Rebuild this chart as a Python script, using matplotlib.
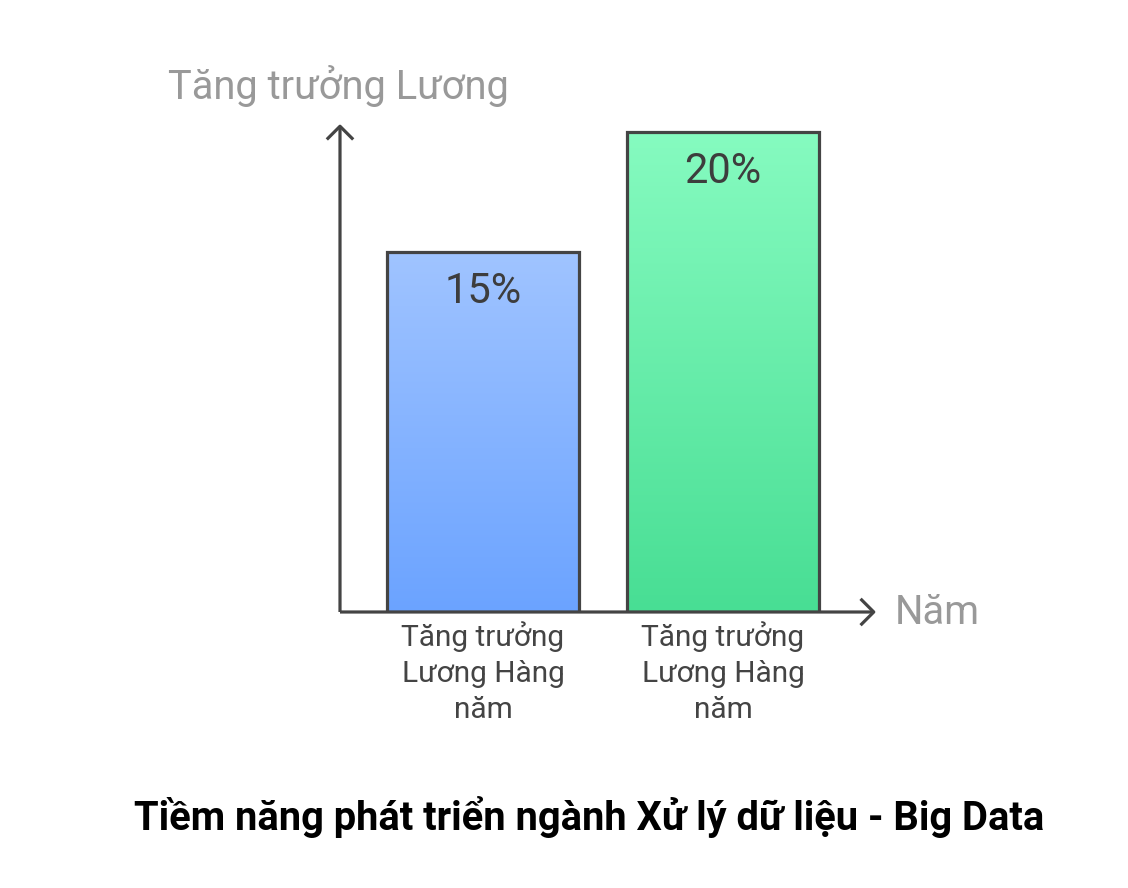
import matplotlib

matplotlib.use("Agg")
import matplotlib.pyplot as plt
import numpy as np
from matplotlib.colors import LinearSegmentedColormap

plt.rcParams["font.family"] = ["Roboto", "DejaVu Sans"]

# data
categories = ["Tăng trưởng\nLương Hàng\nnăm", "Tăng trưởng\nLương Hàng\nnăm"]
growth = [15, 20]
value_labels = ["15%", "20%"]
y_label = "Tăng trưởng Lương"
x_label = "Năm"
title = "Tiềm năng phát triển ngành Xử lý dữ liệu - Big Data"

gradients = [("#a0c4ff", "#6ba3ff"), ("#86fbc0", "#48de94")]
edge = "#444444"

W, H = 1128, 888
fig = plt.figure(figsize=(W / 100, H / 100), dpi=100)

# axes box in pixels: x 340..876, y 612 (zero) up to 124
left, right, zero_y, top_y = 340, 876, 612, 124
ax = fig.add_axes([left / W, (H - zero_y) / H, (right - left) / W, (zero_y - top_y) / H])
px_per_unit = 24.0
ax.axis("off")

x = np.arange(len(growth))
bars = ax.bar(x, growth, width=0.8, color="none", edgecolor=edge, linewidth=2.3, zorder=3)

grad = np.linspace(0, 1, 256).reshape(-1, 1)
for bar, (c_top, c_bot), lab in zip(bars, gradients, value_labels):
    cmap = LinearSegmentedColormap.from_list("g", [c_bot, c_top])
    x0, y0 = bar.get_x(), bar.get_y()
    w, h = bar.get_width(), bar.get_height()
    img = ax.imshow(grad, extent=[x0, x0 + w, y0, y0 + h], origin="lower",
                    cmap=cmap, aspect="auto", zorder=2)
    img.set_clip_path(bar)
    ax.text(x0 + w / 2, y0 + h - 1.65, lab, ha="center", va="center",
            fontsize=30, color="#3d3d3d", zorder=4)

ax.set_xlim(-(483 - left) / 240, (right - 483) / 240)
ax.set_ylim(0, (zero_y - top_y) / px_per_unit)

# axis arrows
arrow = dict(arrowstyle="->,head_length=0.95,head_width=0.95", color=edge, lw=2.3,
             shrinkA=0, shrinkB=0, capstyle="butt")
ax.annotate("", xy=(0, 1), xytext=(0, 0), xycoords="axes fraction", arrowprops=arrow, zorder=5)
ax.annotate("", xy=(1, 0), xytext=(0, 0), xycoords="axes fraction", arrowprops=arrow, zorder=5)

for xi, cat in zip(x, categories):
    ax.text(xi, -0.38, cat, ha="center", va="top", fontsize=21.5,
            color="#444444", linespacing=1.36)

fig.text(168 / W, 1 - 86 / H, y_label, ha="left", va="center", fontsize=28.7, color="#999999")
fig.text(895 / W, 1 - 612 / H, x_label, ha="left", va="center", fontsize=28.7, color="#999999")
fig.text(589 / W, 1 - 817 / H, title, ha="center", va="center", fontsize=28.7,
         fontweight="bold", color="#000000")

fig.savefig("out.png", dpi=100, facecolor="white")
